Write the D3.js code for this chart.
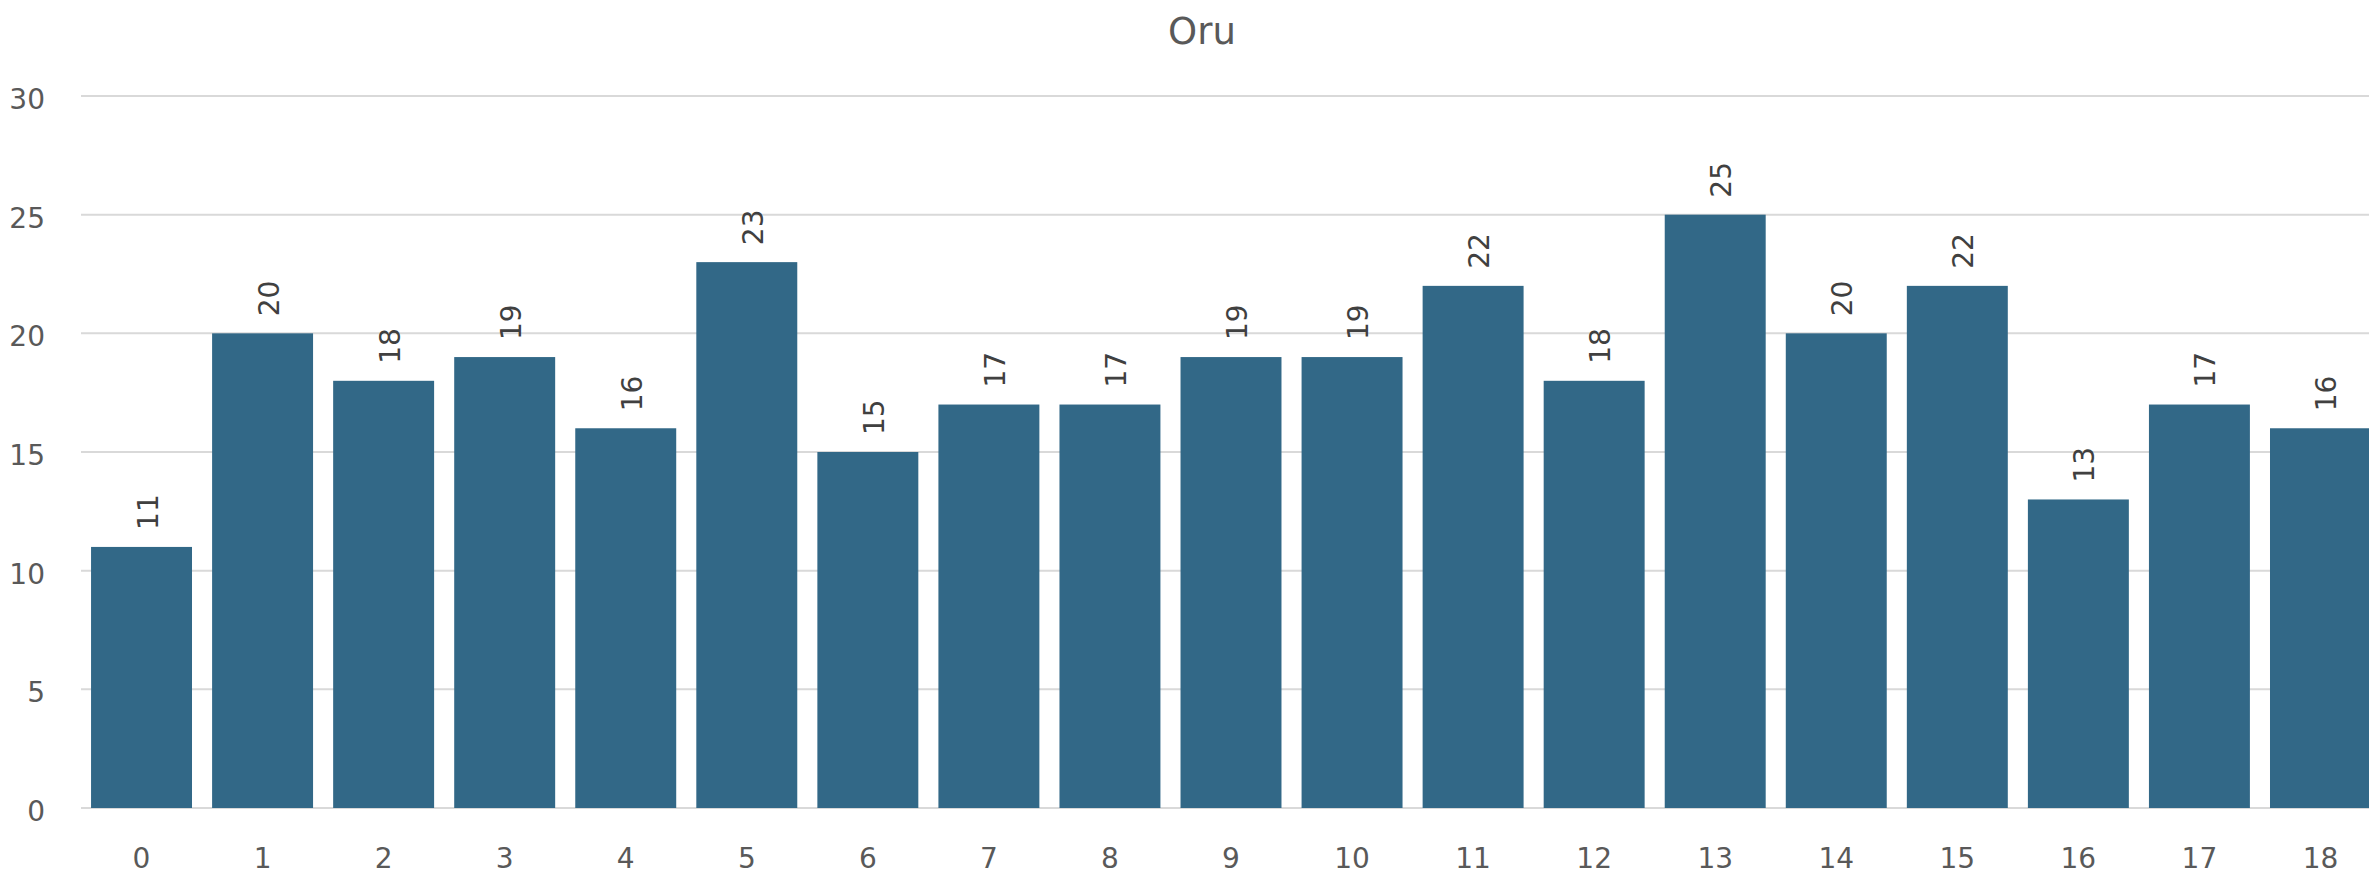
<!DOCTYPE html>
<html>
<head>
<meta charset="utf-8">
<script src="https://cdn.jsdelivr.net/npm/d3@7"></script>
<style>
  html, body { margin: 0; padding: 0; background: #fff; overflow: hidden; }
  text { font-family: "DejaVu Sans", "Open Sans", sans-serif; }
</style>
</head>
<body>
<svg id="chart" width="2369" height="879"></svg>
<script>
const title = "Oru";
const categories = ["0","1","2","3","4","5","6","7","8","9","10","11","12","13","14","15","16","17","18"];
const values = [11,20,18,19,16,23,15,17,17,19,19,22,18,25,20,22,13,17,16];
const yTicks = [0,5,10,15,20,25,30];

(function () {
const svg = d3.select("#chart");
const W = 2369, H = 879;
const mLeft = 81, mRight = 2381, mTop = 96, mBottom = 808;

const x = d3.scaleBand().domain(categories).range([mLeft, mRight])
  .paddingInner(0.166).paddingOuter(0.083);
const y = d3.scaleLinear().domain([0, 30]).range([mBottom, mTop]);

// gridlines
svg.append("g").selectAll("line").data(yTicks).join("line")
  .attr("x1", mLeft).attr("x2", W)
  .attr("y1", d => y(d)).attr("y2", d => y(d))
  .attr("stroke", "#d9d9d9").attr("stroke-width", 2);

// y axis labels
const yAxis = d3.axisLeft(y).tickValues(yTicks).tickSize(0).tickPadding(0);
const gy = svg.append("g").attr("transform", "translate(45,0)").call(yAxis);
gy.select(".domain").remove();
gy.selectAll("text").attr("font-size", 28).attr("fill", "#595959")
  .attr("font-family", "'DejaVu Sans', sans-serif")
  .attr("dy", "0.45em").attr("text-anchor", "end");

// bars
svg.append("g").selectAll("rect").data(values).join("rect")
  .attr("x", (d, i) => x(categories[i]))
  .attr("width", x.bandwidth())
  .attr("y", d => y(d))
  .attr("height", d => y(0) - y(d))
  .attr("fill", "#326887");

// x axis labels
const xAxis = d3.axisBottom(x).tickSize(0).tickPadding(0);
const gx = svg.append("g").attr("transform", `translate(0,${mBottom})`).call(xAxis);
gx.select(".domain").remove();
gx.selectAll("text").attr("font-size", 28).attr("fill", "#595959")
  .attr("font-family", "'DejaVu Sans', sans-serif")
  .attr("dy", null).attr("y", 60);

// value labels
svg.append("g").selectAll("text").data(values).join("text")
  .attr("transform", (d, i) => `translate(${x(categories[i]) + x.bandwidth() / 2 + 16},${y(d) - 17}) rotate(-90)`)
  .attr("text-anchor", "start")
  .attr("font-size", 28)
  .attr("fill", "#404040")
  .text(d => d);

// title
svg.append("text").attr("x", 1202).attr("y", 44)
  .attr("text-anchor", "middle").attr("font-size", 37)
  .attr("fill", "#595959").text(title);
})();
</script>
</body>
</html>
